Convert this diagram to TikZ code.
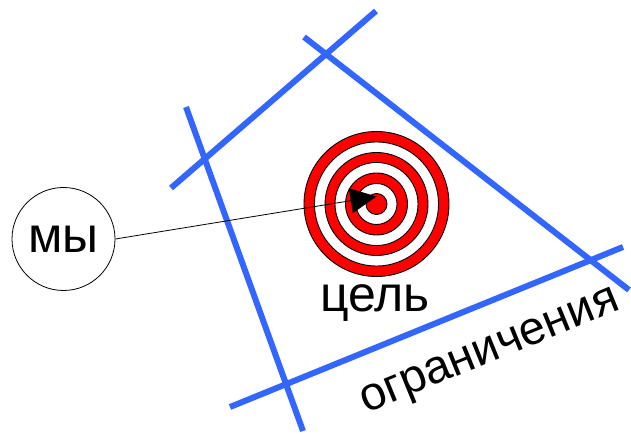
\documentclass[tikz,border=0pt]{standalone}
\usepackage{fontspec}
\setmainfont{Liberation Sans}
\usepackage{tikz}
\usetikzlibrary{arrows.meta,positioning}
\definecolor{limitblue}{RGB}{51,102,255}
\definecolor{goalred}{RGB}{255,0,0}
\tikzset{
  limit/.style={limitblue,line width=6pt},
  ring/.style={draw=black,line width=0.9pt},
  bigtext/.style={font=\fontsize{50}{60}\selectfont},
}

\begin{document}
\begin{tikzpicture}[x=1pt,y=-1pt,>={Triangle[length=26pt,width=25pt]}]
  \useasboundingbox (0,0) rectangle (631,435);
  % the four constraints
  \draw[limit] (171,188) -- (376,11);
  \draw[limit] (186,107) -- (303,431);
  \draw[limit] (304,37) -- (629,290);
  \draw[limit] (230,407) -- (623,247);
  % the target
  \coordinate (goal) at (376.5,204);
  \foreach \r/\c in {72.5/goalred,62/white,51.5/goalred,41.5/white,31/goalred,20.5/white,10.5/goalred}
    \filldraw[ring,fill=\c] (goal) circle (\r);
  \coordinate (tip) at (376.5,196.5);
  \node[draw,circle,line width=0.8pt,minimum size=103pt,inner sep=0pt,bigtext] (we) at (63.5,239) {мы};
  \draw[->,line width=0.8pt] (we.east) -- (tip);
  \node[bigtext,anchor=base] (goallabel) at (375,312) {цель};
  \node[font=\fontsize{47}{56}\selectfont,anchor=base,rotate=22.2] (limitlabel) at (494,361) {ограничения};
\end{tikzpicture}
\end{document}
